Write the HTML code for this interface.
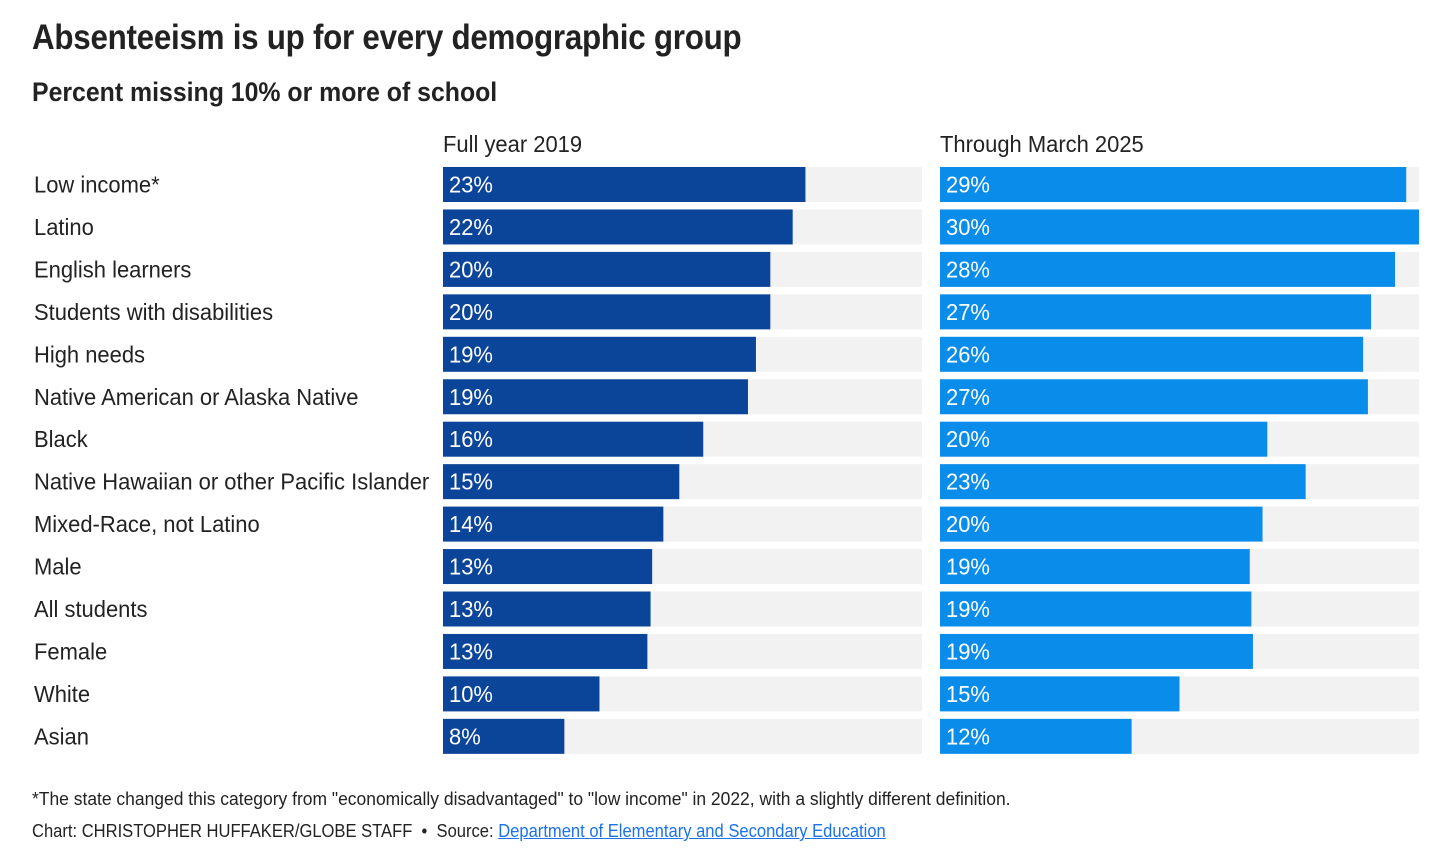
<!DOCTYPE html>
<html><head><meta charset="utf-8">
<style>
body{margin:0;background:#fff;width:1456px;height:867px;overflow:hidden;font-family:"Liberation Sans",sans-serif;color:#222}
#title{position:absolute;left:32px;top:18px;font-size:35px;font-weight:bold;letter-spacing:-0.3px;transform:scaleX(0.896);transform-origin:0 0;white-space:nowrap}
#sub{position:absolute;left:32px;top:77px;font-size:27px;font-weight:bold;transform:scaleX(0.92);transform-origin:0 0;white-space:nowrap}
.note{position:absolute;left:32px;font-size:18px;color:#222;transform-origin:0 0;white-space:nowrap}
a{color:#1a73e8;text-decoration:underline}
</style></head><body>
<div id="title">Absenteeism is up for every demographic group</div>
<div id="sub">Percent missing 10% or more of school</div>
<svg id="chart" width="1456" height="867" style="position:absolute;left:0;top:0"></svg>
<div class="note" style="top:789px;transform:scaleX(0.97)">*The state changed this category from "economically disadvantaged" to "low income" in 2022, with a slightly different definition.</div>
<div class="note" style="top:821px;transform:scaleX(0.92)">Chart: CHRISTOPHER HUFFAKER/GLOBE STAFF &nbsp;•&nbsp; Source: <a>Department of Elementary and Secondary Education</a></div>
<script>
const categories=["Low income*","Latino","English learners","Students with disabilities","High needs","Native American or Alaska Native","Black","Native Hawaiian or other Pacific Islander","Mixed-Race, not Latino","Male","All students","Female","White","Asian"];
const values2019=[22.7,21.9,20.5,20.5,19.6,19.1,16.3,14.8,13.8,13.1,13.0,12.8,9.8,7.6];
const values2025=[29.2,30.0,28.5,27.0,26.5,26.8,20.5,22.9,20.2,19.4,19.5,19.6,15.0,12.0];
const labels2019=["23%","22%","20%","20%","19%","19%","16%","15%","14%","13%","13%","13%","10%","8%"];
const labels2025=["29%","30%","28%","27%","26%","27%","20%","23%","20%","19%","19%","19%","15%","12%"];
const panelTitles=["Full year 2019","Through March 2025"];
const maxVal=30;
const svg=document.getElementById('chart');
const NS='http://www.w3.org/2000/svg';
const W=479,rowH=42.45,top0=167,barH=35;
const x=v=>v/maxVal*W;
const y=i=>top0+i*rowH;
const SX=0.955;
function mk(t,a){const e=document.createElementNS(NS,t);for(const k in a)e.setAttribute(k,a[k]);svg.appendChild(e);return e;}
function txt(s,tx,ty,fill){const e=mk('text',{x:0,y:0,transform:`translate(${tx},${ty}) scale(${SX},1)`,'font-size':23,fill:fill,'font-family':'"Liberation Sans",sans-serif'});e.textContent=s;return e;}
const panels=[{x0:443,vals:values2019,labs:labels2019,col:"#0b4599",n:"2019"},{x0:940,vals:values2025,labs:labels2025,col:"#0a8ceb",n:"2025"}];
panels.forEach((p,pi)=>{
  const t=txt(panelTitles[pi],p.x0,152,'#222');
  
  
});
categories.forEach((c,i)=>{
  const t=txt(c,34,y(i)+barH/2+8,'#222');
  
  
  panels.forEach(p=>{
    const bg=mk('rect',{x:p.x0,y:y(i),width:W,height:barH,fill:'#f2f2f2'});
    
    
    const b=mk('rect',{x:p.x0,y:y(i),width:x(p.vals[i]),height:barH,fill:p.col});
    
    
    const l=txt(p.labs[i],p.x0+6,y(i)+barH/2+8,'#fff');
    
    
  });
});
</script>
</body></html>
